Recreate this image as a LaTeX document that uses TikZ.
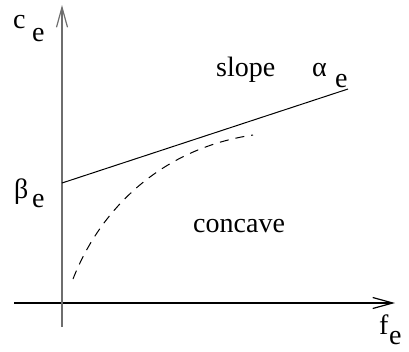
\documentclass[tikz,border=0pt]{standalone}
\usepackage{fontspec}
\newfontfamily\tnr{LiberationSerif}[Extension=.ttf, UprightFont=*-Regular]
\usetikzlibrary{arrows.meta}
\tikzset{
  lbl/.style={inner sep=0pt, anchor=base west, font=\tnr\fontsize{28}{30}\selectfont},
  axis/.style={line width=1.2pt, -{Straight Barb[length=20pt,width=11pt,line width=1.2pt]}},
}
\begin{document}
\begin{tikzpicture}[x=1pt,y=-1pt]
\useasboundingbox (0,0) rectangle (409,351);
% axes
\coordinate (ybot) at (62,327);
\coordinate (ytop) at (62,5);
\coordinate (xleft) at (14,303);
\coordinate (xright) at (395,303);
\draw[axis] (xleft) -- (xright);
\draw[axis, draw={rgb,255:red,110;green,110;blue,110}, line width=1.8pt] (ybot) -- (ytop);
% solid line
\coordinate (b) at (62,183);
\coordinate (a) at (348,89);
\draw[line width=1pt] (b) -- (a);
% dashed concave curve
\coordinate (c0) at (73,279);
\coordinate (c1) at (253,135);
\draw[line width=1pt, dash pattern=on 9pt off 7pt] (c0) .. controls (102,205) and (165,148) .. (c1);
% labels
\node[lbl] (ce) at (13,28) {c};
\node[lbl] (cesub) at (32,41) {e};
\node[lbl] (be) at (14,198) {β};
\node[lbl] (besub) at (32,207) {e};
\node[lbl] (slope) at (216,76) {slope};
\node[lbl] (al) at (312,76) {α};
\node[lbl] (alsub) at (335,87) {e};
\node[lbl] (conc) at (193,232) {concave};
\node[lbl] (fe) at (379,334) {f};
\node[lbl] (fesub) at (389,344) {e};
\end{tikzpicture}
\end{document}
